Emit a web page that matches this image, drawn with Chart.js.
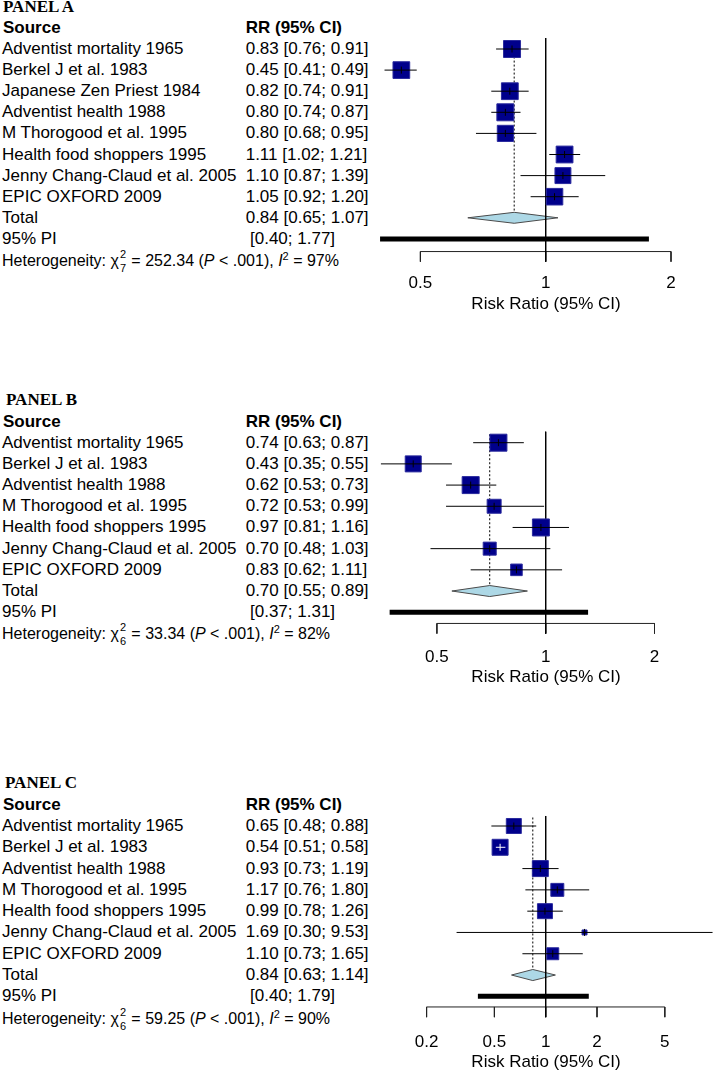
<!DOCTYPE html>
<html>
<head>
<meta charset="utf-8">
<script src="https://cdn.jsdelivr.net/npm/chart.js@4.4.1/dist/chart.umd.min.js"></script>
<style>
  html, body { margin: 0; padding: 0; background: #fff; overflow: hidden; }
  #page { position: relative; width: 714px; height: 1071px; overflow: hidden; }
  .t { position: absolute; white-space: nowrap; font-family: 'Liberation Sans', Arial, sans-serif;
       font-size: 17px; line-height: 20px; color: #000; }
  .b { font-weight: bold; }
  .panel { font-family: 'Liberation Serif', 'Times New Roman', serif; font-weight: bold; }
  .het { font-size: 16px; }
  .ss { position: relative; display: inline-block; width: 8px; height: 20px; vertical-align: top;
        font-size: 11px; line-height: 11px; }
  .ss span { position: absolute; left: 1px; }
  .ss .sp { top: -2px; }
  .ss .sb { top: 12px; }
  .sup { position: relative; top: -6px; font-size: 11px; line-height: 11px; }
  canvas { position: absolute; }
</style>
</head>
<body>
<div id="page"></div>
<script>
// ---- data ----
const studiesA = ['Adventist mortality 1965', 'Berkel J et al. 1983', 'Japanese Zen Priest 1984',
  'Adventist health 1988', 'M Thorogood et al. 1995', 'Health food shoppers 1995',
  'Jenny Chang-Claud et al. 2005', 'EPIC OXFORD 2009'];
const rrA = [0.83, 0.45, 0.82, 0.80, 0.80, 1.11, 1.10, 1.05];
const lowerA = [0.76, 0.41, 0.74, 0.74, 0.68, 1.02, 0.87, 0.92];
const upperA = [0.91, 0.49, 0.91, 0.87, 0.95, 1.21, 1.39, 1.20];
const weightA = [13.0, 12.6, 12.7, 13.0, 11.8, 12.7, 11.5, 12.4];
const totalA = [0.84, 0.65, 1.07];
const piA = [0.40, 1.77];
const hetA = ['7', '252.34', '< .001', '97%'];
const ticksA = [0.5, 1, 2];

const studiesB = ['Adventist mortality 1965', 'Berkel J et al. 1983', 'Adventist health 1988',
  'M Thorogood et al. 1995', 'Health food shoppers 1995', 'Jenny Chang-Claud et al. 2005',
  'EPIC OXFORD 2009'];
const rrB = [0.74, 0.43, 0.62, 0.72, 0.97, 0.70, 0.83];
const lowerB = [0.63, 0.35, 0.53, 0.53, 0.81, 0.48, 0.62];
const upperB = [0.87, 0.55, 0.73, 0.99, 1.16, 1.03, 1.11];
const weightB = [17.6, 15.7, 17.6, 12.2, 17.6, 10.7, 8.6];
const totalB = [0.70, 0.55, 0.89];
const piB = [0.37, 1.31];
const hetB = ['6', '33.34', '< .001', '82%'];
const ticksB = [0.5, 1, 2];

const studiesC = studiesB;
const rrC = [0.65, 0.54, 0.93, 1.17, 0.99, 1.69, 1.10];
const lowerC = [0.48, 0.51, 0.73, 0.76, 0.78, 0.30, 0.73];
const upperC = [0.88, 0.58, 1.19, 1.80, 1.26, 9.53, 1.65];
const weightC = [17.2, 19.4, 19.4, 13.1, 17.2, 2.4, 11.3];
const totalC = [0.84, 0.63, 1.14];
const piC = [0.40, 1.79];
const hetC = ['6', '59.25', '< .001', '90%'];
const ticksC = [0.2, 0.5, 1, 2, 5];

// ---- layout (page pixels) ----
const panels = [
  { title: 'PANEL A', titleX: 3, studies: studiesA, rr: rrA, lo: lowerA, hi: upperA, w: weightA,
    total: totalA, pi: piA, het: hetA, ticks: ticksA,
    top: 0, h: 315, axisH: 49, row1: 49, gap: 21.1, pxPerDoubling: 125.3, maxSide: 18,
    axisOff: 0.6, refTop: 0.48 },
  { title: 'PANEL B', titleX: 6, studies: studiesB, rr: rrB, lo: lowerB, hi: upperB, w: weightB,
    total: totalB, pi: piB, het: hetB, ticks: ticksB,
    top: 380, h: 308, axisH: 48, row1: 442.7, gap: 21.19, pxPerDoubling: 108.8, maxSide: 18,
    axisOff: 0.53, refTop: 0.48 },
  { title: 'PANEL C', titleX: 5, studies: studiesC, rr: rrC, lo: lowerC, hi: upperC, w: weightC,
    total: totalC, pi: piC, het: hetC, ticks: ticksC,
    top: 760, h: 313, axisH: 48, row1: 826, gap: 21.29, pxPerDoubling: 51.3, maxSide: 17,
    axisOff: 0.5, refTop: 0.53 }
];
const onePx = 545.7;     // page x of RR = 1
const canvasLeft = 369;
const canvasW = 354;

Chart.defaults.font.family = "'Liberation Sans', Arial, sans-serif";
Chart.defaults.font.size = 17;
Chart.defaults.color = '#000';

const page = document.getElementById('page');
const f2 = v => v.toFixed(2);
const ci = (e, l, u) => `${f2(e)} [${f2(l)}; ${f2(u)}]`;

function addText(html, x, y, cls) {
  const d = document.createElement('div');
  d.className = 't ' + (cls || '');
  d.innerHTML = html;
  d.style.left = x + 'px';
  d.style.top = (y - 10) + 'px';
  page.appendChild(d);
}

function segs(list) {
  const out = [];
  list.forEach(([a, b]) => {
    out.push({ x: a[0], y: a[1] }, { x: b[0], y: b[1] }, { x: b[0], y: null });
  });
  return out;
}

function buildPanel(p) {
  const n = p.studies.length;
  const rowY = r => p.row1 + (r - 1) * p.gap;
  const totRow = n + 1, piRow = n + 2;

  // text columns
  addText(p.title, p.titleX, rowY(-1), 'panel');
  addText('Source', 3, rowY(0), 'b');
  addText('RR (95% CI)', 245.7, rowY(0), 'b');
  p.studies.forEach((s, i) => {
    addText(s, 2, rowY(i + 1));
    addText(ci(p.rr[i], p.lo[i], p.hi[i]), 245.7, rowY(i + 1));
  });
  addText('Total', 2, rowY(totRow));
  addText(ci(p.total[0], p.total[1], p.total[2]), 245.7, rowY(totRow));
  addText('95% PI', 2, rowY(piRow));
  addText(`[${f2(p.pi[0])}; ${f2(p.pi[1])}]`, 250, rowY(piRow));
  addText(`Heterogeneity: χ<span class="ss"><span class="sp">2</span><span class="sb">${p.het[0]}</span></span>` +
    ` = ${p.het[1]} (<i>P</i> ${p.het[2].replace('<', '&lt;')}), <i>I</i><span class="sup">2</span> = ${p.het[3]}`,
    2, rowY(n + 3) + 1, 'het');

  // chart
  const canvas = document.createElement('canvas');
  canvas.width = canvasW;
  canvas.height = p.h;
  canvas.style.left = canvasLeft + 'px';
  canvas.style.top = p.top + 'px';
  page.appendChild(canvas);

  const u = p.pxPerDoubling;
  const xMin = Math.pow(2, -(onePx - canvasLeft) / u);
  const xMax = Math.pow(2, (canvasLeft + canvasW - onePx) / u);
  const areaBottom = p.top + p.h - p.axisH;
  const yMin = 1 - (p.row1 - p.top) / p.gap;
  const yMax = 1 + (areaBottom - p.row1) / p.gap;

  const wMax = Math.max(...p.w);
  const sides = p.w.map(w => p.maxSide * Math.sqrt(w / wMax));
  const inside = (chart, i) => {
    const xs = chart.scales.x;
    return xs.getPixelForValue(p.hi[i]) - xs.getPixelForValue(p.lo[i]) < sides[i];
  };

  const axisRow = piRow + p.axisOff;
  const tickLen = 0.48;
  const tickFirst = p.ticks[0], tickLast = p.ticks[p.ticks.length - 1];
  const dh = 0.26;
  const [est, tl, tu] = p.total;

  const datasets = [];
  // diamond
  datasets.push({
    data: [{ x: tl, y: totRow }, { x: est, y: totRow - dh }, { x: tu, y: totRow },
           { x: est, y: totRow + dh }, { x: tl, y: totRow }],
    borderColor: '#4a4a4a', borderWidth: 1, backgroundColor: '#add8e6', fill: 'shape',
    pointRadius: 0, tension: 0, order: 6
  });
  // prediction interval bar
  datasets.push({
    data: [{ x: p.pi[0], y: piRow }, { x: p.pi[1], y: piRow }],
    borderColor: '#000', borderWidth: 5, pointRadius: 0, order: 5
  });
  // pooled estimate dotted line
  datasets.push({
    data: [{ x: est, y: 0.6 }, { x: est, y: totRow - dh }],
    borderColor: '#000', borderWidth: 1, borderDash: [2, 2], pointRadius: 0, order: 5
  });
  // axis line and tick marks
  datasets.push({
    data: segs([[[tickFirst, axisRow], [tickLast, axisRow]]]
      .concat(p.ticks.map(t => [[t, axisRow], [t, axisRow + tickLen]]))),
    borderColor: '#222', borderWidth: 1, pointRadius: 0, order: 5
  });
  // no-effect line
  datasets.push({
    data: [{ x: 1, y: p.refTop }, { x: 1, y: axisRow + tickLen }],
    borderColor: '#000', borderWidth: 1, pointRadius: 0, order: 4
  });
  // study squares
  datasets.push({
    data: p.rr.map((v, i) => ({ x: v, y: i + 1 })),
    showLine: false, pointStyle: 'rect',
    pointRadius: sides.map(s => (s - 1) / Math.SQRT2),
    pointBackgroundColor: '#00008b', pointBorderColor: '#2a2a9e', pointBorderWidth: 1, order: 3
  });
  // confidence intervals
  p.rr.forEach((v, i) => {
    datasets.push({
      data: [{ x: p.lo[i], y: i + 1 }, { x: p.hi[i], y: i + 1 }],
      borderColor: ctx => inside(ctx.chart, i) ? '#fff' : '#000',
      borderWidth: 1, pointRadius: 0, order: 2
    });
  });
  // estimate marks
  datasets.push({
    data: p.rr.map((v, i) => ({ x: v, y: i + 1 })),
    showLine: false, pointStyle: 'line', rotation: 90, pointRadius: 3.5, pointBorderWidth: 1,
    pointBorderColor: ctx => inside(ctx.chart, ctx.dataIndex) ? '#fff' : '#000', order: 1
  });

  new Chart(canvas, {
    type: 'line',
    data: { datasets },
    options: {
      responsive: false,
      devicePixelRatio: 1,
      animation: false,
      events: [],
      layout: { padding: 0, autoPadding: false },
      plugins: { legend: { display: false }, tooltip: { enabled: false } },
      scales: {
        x: {
          type: 'logarithmic', position: 'bottom', min: xMin, max: xMax, bounds: 'data',
          grid: { display: false, drawTicks: false }, border: { display: false },
          ticks: { padding: 7, autoSkip: false, maxRotation: 0, color: '#000', callback: v => String(v) },
          title: { display: true, text: 'Risk Ratio (95% CI)', color: '#000', padding: { top: 0, bottom: 0 } },
          afterBuildTicks: s => { s.ticks = p.ticks.map(v => ({ value: v })); },
          afterFit: s => { s.height = p.axisH; }
        },
        y: { type: 'linear', display: false, reverse: true, min: yMin, max: yMax, bounds: 'data' }
      }
    }
  });
}

panels.forEach(buildPanel);
</script>
</body>
</html>
